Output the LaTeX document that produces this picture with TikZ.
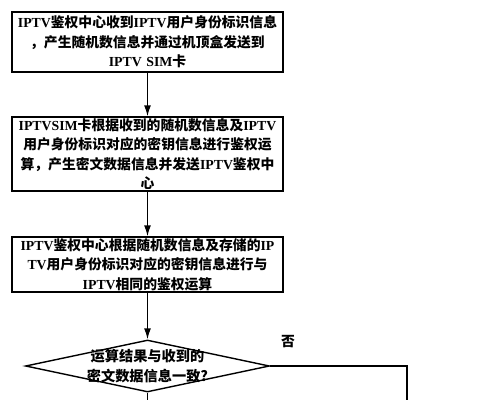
\documentclass[tikz,border=0pt]{standalone}
\usepackage{fontspec}
\usepackage{tikz}
\usetikzlibrary{arrows.meta}
\usetikzlibrary{shapes.geometric}
\newfontfamily\cjk{Noto Sans CJK SC}
\newfontfamily\lat{Liberation Serif}
\newcommand{\en}[1]{{\lat #1}}

\begin{document}
\begin{tikzpicture}[x=1pt, y=-1pt, line width=1.4pt, font=\cjk\bfseries\fontsize{13.8}{19.5}\selectfont]
      \useasboundingbox (0, 0) rectangle (504, 400);

      \node [draw, minimum width=271pt, minimum height=60pt, text width=267pt, align=center, inner sep=0pt] (notify) at (147.5, 42) {\en{IPTV}鉴权中心收到\en{IPTV}用户身份标识信息\\，产生随机数信息并通过机顶盒发送到\\\en{IPTV SIM}卡};
      \node [draw, minimum width=271pt, minimum height=74pt, text width=267pt, align=center, inner sep=0pt] (simcalc) at (147.5, 154) {\en{IPTVSIM}卡根据收到的随机数信息及\en{IPTV}\\用户身份标识对应的密钥信息进行鉴权运\\算，产生密文数据信息并发送\en{IPTV}鉴权中\\心};
      \node [draw, minimum width=271pt, minimum height=55pt, text width=267pt, align=center, inner sep=0pt] (verify) at (147.5, 264.5) {\en{IPTV}鉴权中心根据随机数信息及存储的\en{IP}\\\en{TV}用户身份标识对应的密钥信息进行与\\\en{IPTV}相同的鉴权运算};

      \node [draw, diamond, minimum width=244pt, minimum height=52pt, inner sep=0pt] (check) at (147.5, 366) {};
      \node (checktext) at (check) [align=center, font=\cjk\bfseries\fontsize{14.2}{20}\selectfont] {运算结果与收到的\\密文数据信息一致?};

      \node (nolabel) at (288, 342) {否};
      \coordinate (no) at (407, 400);
      \coordinate (yes) at (147.5, 400);

      \draw [-{Latex[length=11pt, width=7pt]}] (notify) -- (simcalc);
      \draw [-{Latex[length=11pt, width=7pt]}] (simcalc) -- (verify);
      \draw [-{Latex[length=11pt, width=7pt]}] (verify) -- (check);
      \draw (check.east) -| (no);
      \draw (check.south) -- (yes);
    \end{tikzpicture}
\end{document}
